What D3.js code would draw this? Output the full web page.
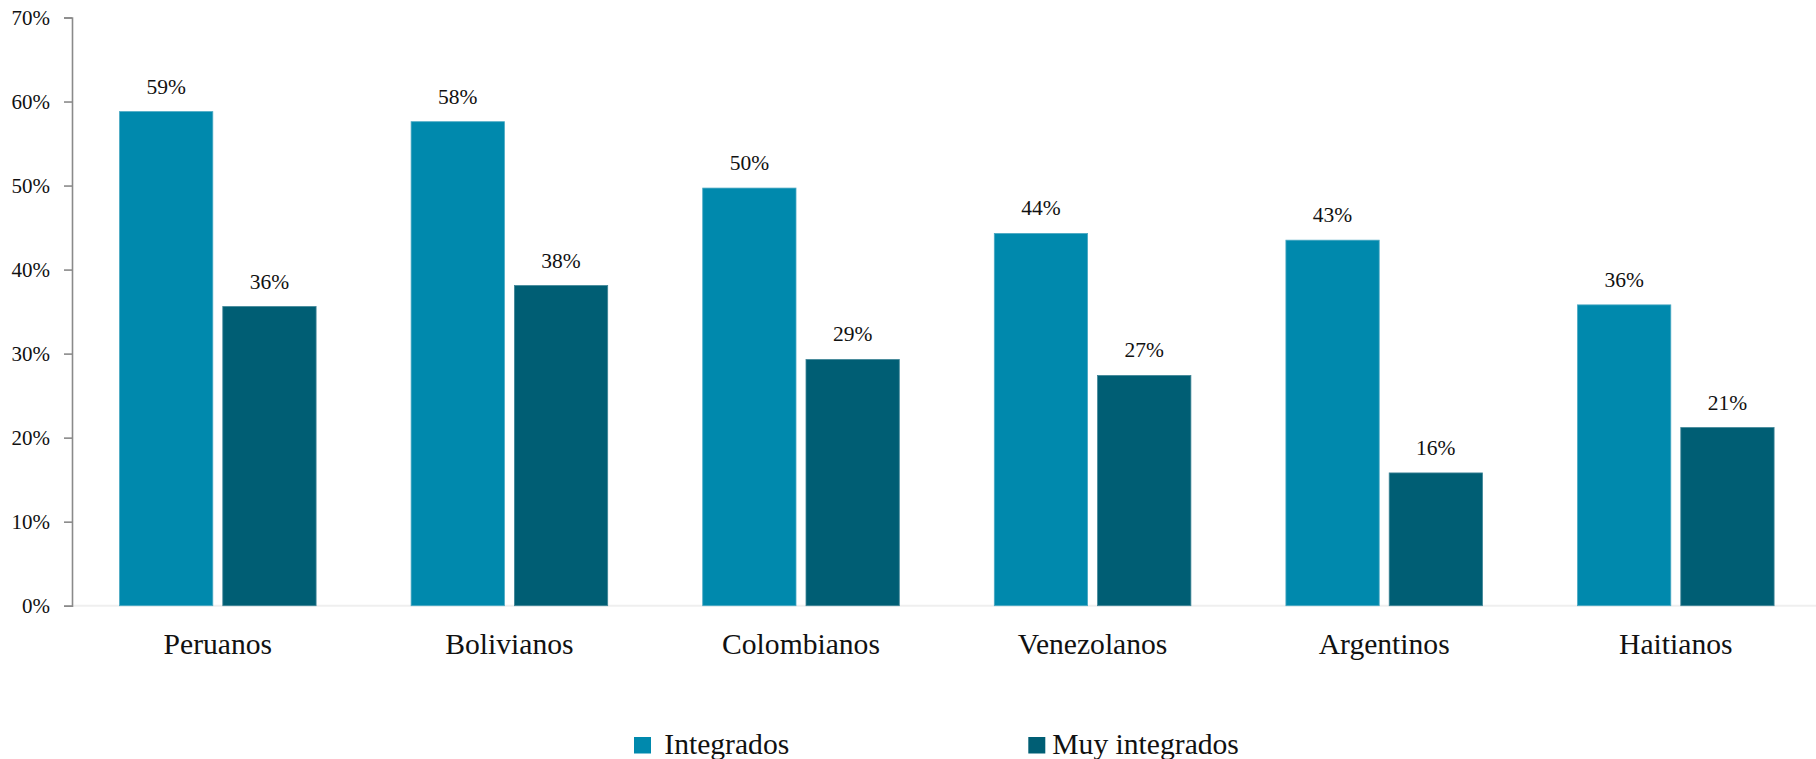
<!DOCTYPE html>
<html>
<head>
<meta charset="utf-8">
<script src="https://cdn.jsdelivr.net/npm/d3@7"></script>
<style>
  html, body { margin: 0; padding: 0; background: #fff; }
  svg { display: block; }
  svg text { font-family: "Liberation Serif", "DejaVu Serif", serif !important; fill: #111; }
</style>
</head>
<body>
<svg id="chart" width="1816" height="759"></svg>
<script>
const categories = ["Peruanos", "Bolivianos", "Colombianos", "Venezolanos", "Argentinos", "Haitianos"];
const seriesNames = ["Integrados", "Muy integrados"];
const integrados = [58.8, 57.6, 49.7, 44.3, 43.5, 35.8];
const muyIntegrados = [35.6, 38.1, 29.3, 27.4, 15.8, 21.2];
const labelsIntegrados = ["59%", "58%", "50%", "44%", "43%", "36%"];
const labelsMuy = ["36%", "38%", "29%", "27%", "16%", "21%"];
const yTicks = [0, 10, 20, 30, 40, 50, 60, 70];
const colors = ["#0089ad", "#005e74"];

(function () {
const svg = d3.select("#chart");
const serif = '"Liberation Serif", "DejaVu Serif", serif';
const mLeft = 72, mRight = 1821.6, mTop = 17.5, mBottom = 605.7;

const x0 = d3.scaleBand().domain(categories).range([mLeft, mRight]).paddingInner(0).paddingOuter(0);
const x1 = d3.scaleBand().domain(seriesNames).range([0, x0.bandwidth()]).paddingInner(0.0968).paddingOuter(0.46);
const y = d3.scaleLinear().domain([0, 70]).range([mBottom, mTop]);

// baseline
svg.append("line")
  .attr("x1", mLeft).attr("x2", 1816)
  .attr("y1", y(0)).attr("y2", y(0))
  .attr("stroke", "#efefef").attr("stroke-width", 2);

// y axis
const yAxis = d3.axisLeft(y).tickValues(yTicks).tickFormat(d => d + "%").tickSize(8).tickPadding(14);
const ga = svg.append("g").attr("transform", `translate(${mLeft},0)`).call(yAxis)
  .attr("font-family", serif).attr("font-size", 21);
ga.select(".domain").attr("stroke", "#8a8a8a").attr("stroke-width", 1.6);
ga.selectAll(".tick line").attr("stroke", "#8a8a8a").attr("stroke-width", 1.6);
ga.selectAll(".tick text")
  .style("font-family", serif)
  .style("font-size", "21px").attr("fill", "#111");

const data = categories.map((c, i) => ({
  cat: c,
  vals: [
    { s: seriesNames[0], v: integrados[i], lab: labelsIntegrados[i], col: colors[0] },
    { s: seriesNames[1], v: muyIntegrados[i], lab: labelsMuy[i], col: colors[1] }
  ]
}));

const groups = svg.selectAll("g.grp").data(data).enter().append("g")
  .attr("class", "grp")
  .attr("transform", d => `translate(${x0(d.cat)},0)`);

groups.selectAll("rect").data(d => d.vals).enter().append("rect")
  .attr("x", d => x1(d.s))
  .attr("width", x1.bandwidth())
  .attr("y", d => y(d.v))
  .attr("height", d => y(0) - y(d.v))
  .attr("fill", d => d.col)
  .attr("stroke", d => d.s === seriesNames[0] ? "#4aa8c3" : "#3f8597")
  .attr("stroke-width", 0.8);

groups.selectAll("text.val").data(d => d.vals).enter().append("text")
  .attr("class", "val")
  .attr("x", d => x1(d.s) + x1.bandwidth() / 2)
  .attr("y", d => y(d.v) - 18)
  .attr("text-anchor", "middle")
  .style("font-family", serif)
  .style("font-size", "21.5px")
  .text(d => d.lab);

// category labels
svg.selectAll("text.cat").data(categories).enter().append("text")
  .attr("class", "cat")
  .attr("x", d => x0(d) + x0.bandwidth() / 2)
  .attr("y", 654.3)
  .attr("text-anchor", "middle")
  .style("font-family", serif)
  .style("font-size", "29.6px")
  .text(d => d);

// legend
const legendX = [634, 1028.3];
const legend = svg.selectAll("g.leg").data(seriesNames).enter().append("g")
  .attr("class", "leg")
  .attr("transform", (d, i) => `translate(${legendX[i]},0)`);
legend.append("rect")
  .attr("x", 0).attr("y", 737).attr("width", 17).attr("height", 16.5)
  .attr("fill", (d, i) => colors[i]);
legend.append("text")
  .attr("x", (d, i) => i === 0 ? 30.3 : 24)
  .attr("y", 753.5)
  .style("font-family", serif)
  .style("font-size", "29.6px")
  .text(d => d);
})();
</script>
</body>
</html>
